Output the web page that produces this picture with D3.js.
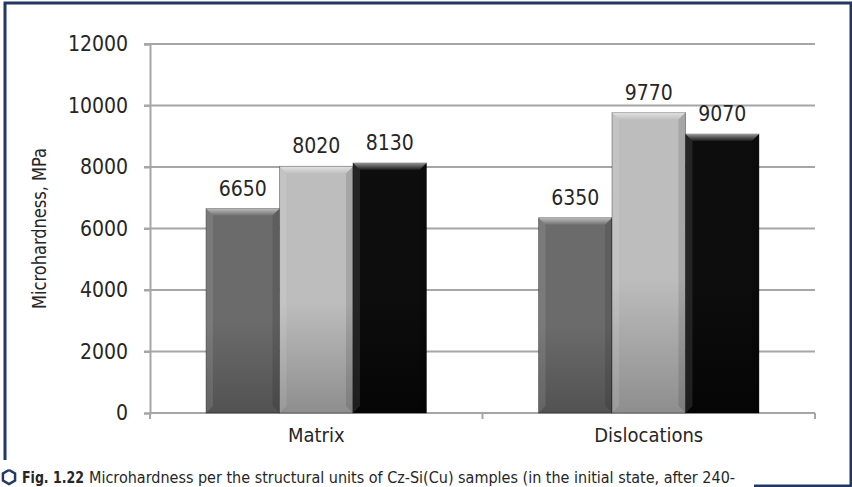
<!DOCTYPE html>
<html>
<head>
<meta charset="utf-8">
<script src="https://cdn.jsdelivr.net/npm/d3@7"></script>
<style>
  body { margin: 0; background: #fff; }
  svg { display: block; }
  text { font-family: "Liberation Sans Narrow", "DejaVu Sans Condensed", "Roboto", sans-serif; fill: #262626; }
</style>
</head>
<body>
<div class="chart"></div>
<script>
"use strict";

var categories = ["Matrix", "Dislocations"];
var series = ["s1", "s2", "s3"];
var values = [
  [6650, 8020, 8130],
  [6350, 9770, 9070]
];
var yTicks = [0, 2000, 4000, 6000, 8000, 10000, 12000];
var yTitle = "Microhardness, MPa";
var caption = "Microhardness per the structural units of Cz-Si(Cu) samples (in the initial state, after 240-";
var figLabel = "Fig. 1.22";

function drawChart(){

var width = 852,
    height = 487;

var svg = d3.select(".chart")
    .append("svg")
    .attr("width", width)
    .attr("height", height);

var defs = svg.append("defs");

// bar fills, lighter at the top
var fills = [
  ["#6b6b6b", "#525252"],
  ["#bdbdbd", "#8e8e8e"],
  ["#0d0d0d", "#050505"]
];
fills.forEach(function(f, i){
  var g = defs.append("linearGradient")
      .attr("id", "fill" + i)
      .attr("x1", 0).attr("y1", 0).attr("x2", 0).attr("y2", 1);
  g.append("stop").attr("offset", "0%").attr("stop-color", f[0]);
  g.append("stop").attr("offset", "55%").attr("stop-color", f[0]);
  g.append("stop").attr("offset", "100%").attr("stop-color", f[1]);
});
var bevel = defs.append("linearGradient")
    .attr("id", "bevel")
    .attr("x1", 0).attr("y1", 0).attr("x2", 0).attr("y2", 1);
bevel.append("stop").attr("offset", "0%").attr("stop-color", "#fff").attr("stop-opacity", 0.55);
bevel.append("stop").attr("offset", "100%").attr("stop-color", "#fff").attr("stop-opacity", 0.05);

var pLeft = 150, pRight = 815, pTop = 44, pBottom = 413;

var x0 = d3.scaleBand()
    .domain(categories)
    .range([pLeft, pRight])
    .paddingInner(0.337)
    .paddingOuter(0.1685);

var x1 = d3.scaleBand()
    .domain(series)
    .range([0, x0.bandwidth()]);

var y = d3.scaleLinear()
    .domain([0, 12000])
    .range([pBottom, pTop]);

// frame
svg.append("path")
    .attr("d", "M5,460 V3 H851 V486 H754")
    .attr("fill", "none")
    .attr("stroke", "#1f3864")
    .attr("stroke-width", 3);

// gridlines
svg.append("g")
    .selectAll("line")
    .data(yTicks.filter(function(d){ return d > 0; }))
    .enter().append("line")
      .attr("x1", pLeft - 6)
      .attr("x2", pRight)
      .attr("y1", function(d){ return y(d); })
      .attr("y2", function(d){ return y(d); })
      .attr("stroke", "#a6a6a6")
      .attr("stroke-width", 2);

// y axis
var yAxis = svg.append("g")
    .attr("transform", "translate(" + pLeft + ",0)")
    .call(d3.axisLeft(y).tickValues(yTicks).tickFormat(d3.format("d")).tickSize(6).tickPadding(16));
yAxis.attr("font-family", null).attr("font-size", null);
yAxis.select(".domain").attr("stroke", "#a6a6a6").attr("stroke-width", 2);
yAxis.selectAll(".tick line").attr("stroke", "#a6a6a6").attr("stroke-width", 2);
yAxis.selectAll("text")
    .attr("font-size", 21)
    .attr("fill", null);

// x axis
svg.append("line")
    .attr("x1", pLeft).attr("x2", pRight)
    .attr("y1", pBottom).attr("y2", pBottom)
    .attr("stroke", "#a6a6a6").attr("stroke-width", 2);
svg.append("g")
    .selectAll("line")
    .data([pLeft, (pLeft + pRight) / 2, pRight])
    .enter().append("line")
      .attr("x1", function(d){ return d; })
      .attr("x2", function(d){ return d; })
      .attr("y1", pBottom)
      .attr("y2", pBottom + 6)
      .attr("stroke", "#a6a6a6").attr("stroke-width", 2);

svg.append("g")
    .selectAll("text")
    .data(categories)
    .enter().append("text")
      .attr("x", function(d){ return x0(d) + x0.bandwidth() / 2; })
      .attr("y", pBottom + 29)
      .attr("text-anchor", "middle")
      .attr("font-size", 20)
      .text(function(d){ return d; });

// y title
svg.append("text")
    .attr("transform", "translate(46," + ((pTop + pBottom) / 2) + ") rotate(-90)")
    .attr("text-anchor", "middle")
    .attr("font-size", 19)
    .attr("textLength", 161)
    .attr("lengthAdjust", "spacingAndGlyphs")
    .text(yTitle);

// bars
var groups = svg.append("g")
    .selectAll("g")
    .data(values)
    .enter().append("g")
      .attr("transform", function(d, i){ return "translate(" + x0(categories[i]) + ",0)"; });

var bars = groups.selectAll("g")
    .data(function(d){ return d.map(function(v, j){ return {v: v, j: j}; }); })
    .enter().append("g");

bars.append("rect")
    .attr("x", function(d){ return x1(series[d.j]); })
    .attr("y", function(d){ return y(d.v); })
    .attr("width", x1.bandwidth())
    .attr("height", function(d){ return pBottom - y(d.v); })
    .attr("fill", function(d){ return "url(#fill" + d.j + ")"; })
    .attr("stroke", "rgba(0,0,0,0.35)")
    .attr("stroke-width", 1);

// bevelled top edge
bars.append("path")
    .attr("d", function(d){
      var bx = x1(series[d.j]), bw = x1.bandwidth(), by = y(d.v), b = 7;
      return "M" + bx + "," + by + " H" + (bx + bw) + " L" + (bx + bw - b) + "," + (by + b) +
             " H" + (bx + b) + " Z";
    })
    .attr("fill", "url(#bevel)");
bars.append("path")
    .attr("d", function(d){
      var bx = x1(series[d.j]), by = y(d.v), b = 7;
      return "M" + bx + "," + by + " L" + (bx + b) + "," + (by + b) + " V" + (pBottom - b) +
             " L" + bx + "," + pBottom + " Z";
    })
    .attr("fill", "#fff").attr("fill-opacity", 0.1);
bars.append("path")
    .attr("d", function(d){
      var bx = x1(series[d.j]), bw = x1.bandwidth(), by = y(d.v), b = 7;
      return "M" + (bx + bw) + "," + by + " L" + (bx + bw - b) + "," + (by + b) + " V" + (pBottom - b) +
             " L" + (bx + bw) + "," + pBottom + " Z";
    })
    .attr("fill", "#000").attr("fill-opacity", 0.12);

bars.append("text")
    .attr("x", function(d){ return x1(series[d.j]) + x1.bandwidth() / 2; })
    .attr("y", function(d){ return y(d.v) - 13; })
    .attr("text-anchor", "middle")
    .attr("font-size", 21)
    .text(function(d){ return d.v; });

// caption
svg.append("path")
    .attr("d", d3.line()(d3.range(7).map(function(i){
      var a = Math.PI / 3 * i - Math.PI / 2;
      return [9 + 7 * Math.cos(a), 477 + 7 * Math.sin(a)];
    })))
    .attr("fill", "none")
    .attr("stroke", "#1f3864")
    .attr("stroke-width", 2.5);

svg.append("text")
    .attr("x", 22)
    .attr("y", 483)
    .attr("font-size", 16)
    .attr("font-weight", "bold")
    .attr("textLength", 62)
    .attr("lengthAdjust", "spacingAndGlyphs")
    .text(figLabel);

svg.append("text")
    .attr("x", 89)
    .attr("y", 483)
    .attr("font-size", 16)
    .attr("textLength", 646)
    .attr("lengthAdjust", "spacingAndGlyphs")
    .text(caption);

}

drawChart();
</script>
</body>
</html>
